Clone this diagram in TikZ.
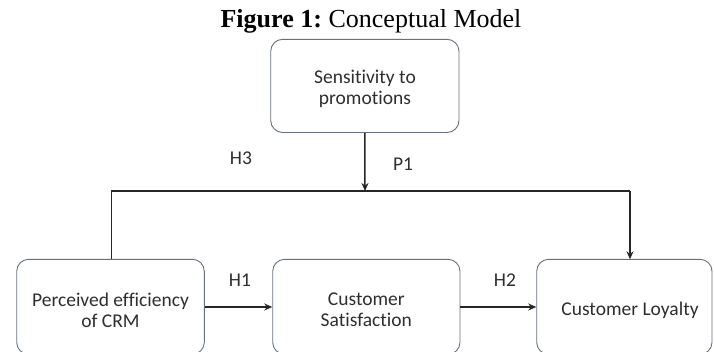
\documentclass[tikz,border=0pt]{standalone}
\usepackage{fontspec}
\setmainfont{Liberation Serif}
\newfontfamily\boxfont{Carlito}[Ligatures=NoCommon]
\usetikzlibrary{arrows.meta,calc}
\definecolor{boxline}{HTML}{66717D}
\definecolor{txt}{HTML}{2E2E2E}
\begin{document}
\begin{tikzpicture}[x=1pt,y=-1pt,
  cbox/.style={draw=boxline, line width=0.9pt, rounded corners=12pt, fill=white, inner sep=0pt},
  btext/.style={font=\boxfont\fontsize{19.5}{21}\selectfont, text=txt, align=center},
  conn/.style={draw=black!85, line width=1.5pt},
  arr/.style={conn, -{Stealth[length=8pt,width=7pt]}},
  lab/.style={font=\boxfont\fontsize{19.5}{21}\selectfont, text=txt}]
\useasboundingbox (0,0) rectangle (714,351);
% title
\node[font=\fontsize{26}{30}\selectfont, anchor=base] (title) at (371,27.3) {\textbf{Figure 1:}\hspace{-2pt} Conceptual Model};
% boxes
\node[cbox, minimum width=188.3pt, minimum height=93.2pt] (top) at (364.85,85.9) {};
\node[btext] (toptext) at (365,89) {Sensitivity to\\promotions};
\node[cbox, minimum width=187.6pt, minimum height=95pt] (left) at (110.5,306.8) {};
\node[btext] (lefttext) at (110.5,310) {Perceived efficiency\\of CRM};
\node[cbox, minimum width=187.3pt, minimum height=95pt] (mid) at (366.35,306.8) {};
\node[btext] (midtext) at (366.35,310) {Customer\\Satisfaction};
\node[cbox, minimum width=175.3pt, minimum height=95pt] (right) at (624.35,306.8) {};
\node[btext] (righttext) at (630,310) {Customer Loyalty};
% labels
\node[lab] (h3) at (241,158) {H3};
\node[lab] (p1) at (403,164) {P1};
\node[lab] (h1) at (240,280) {H1};
\node[lab] (h2) at (505,280) {H2};
% connectors
\coordinate (jmid) at (365,191);
\coordinate (jleft) at (111.5,191);
\coordinate (jright) at (630,191);
\coordinate (rtop) at (630,259.3);
\draw[arr] (top.south) -- (jmid);
\draw[conn] (left.north -| jleft) -- (jleft) -- (jright);
\draw[arr] (jright) -- (rtop);
\draw[arr] (left.east |- 0,307) -- (mid.west |- 0,307);
\draw[arr] (mid.east |- 0,307) -- (right.west |- 0,307);
\end{tikzpicture}
\end{document}
